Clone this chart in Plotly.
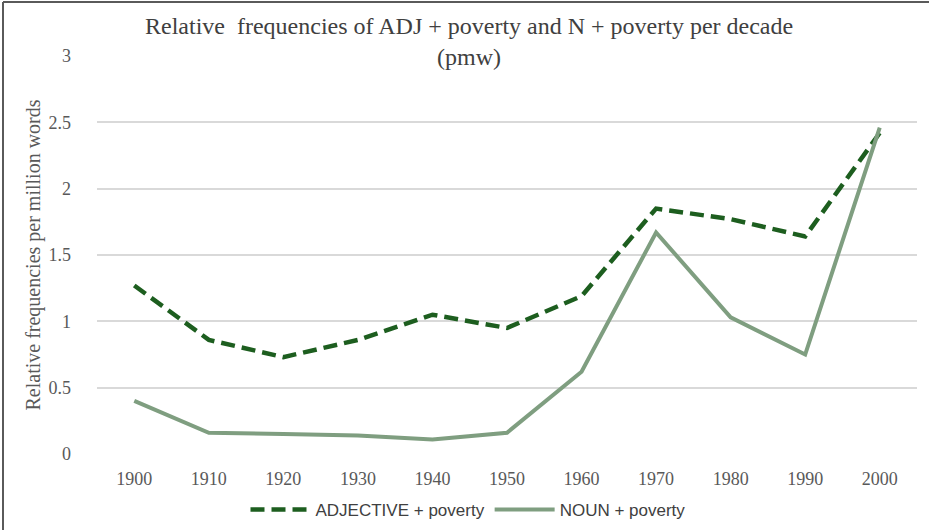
import plotly.graph_objects as go

decades = [1900, 1910, 1920, 1930, 1940, 1950, 1960, 1970, 1980, 1990, 2000]
adj_poverty = [1.27, 0.86, 0.73, 0.86, 1.05, 0.95, 1.19, 1.85, 1.77, 1.64, 2.42]
noun_poverty = [0.40, 0.16, 0.15, 0.14, 0.11, 0.16, 0.62, 1.67, 1.03, 0.75, 2.46]
y_ticks = [0, 0.5, 1, 1.5, 2, 2.5, 3]
y_tick_labels = ["0", "0.5", "1", "1.5", "2", "2.5", "3"]

W, H = 929, 530
ML, MR, MT, MB = 97, 12, 56, 76
PW, PH = W - ML - MR, H - MT - MB

serif = "Liberation Serif, Times New Roman, serif"
sans = "Liberation Sans Narrow, Arial Narrow, Liberation Sans, sans-serif"

fig = go.Figure()
fig.add_trace(go.Scatter(
    x=decades, y=adj_poverty, mode="lines", name="ADJECTIVE + poverty",
    line=dict(color="#1d5e1f", width=4.5, dash="14px,7px"),
))
fig.add_trace(go.Scatter(
    x=decades, y=noun_poverty, mode="lines", name="NOUN + poverty",
    line=dict(color="#7f9e80", width=4),
))

fig.update_layout(
    width=W, height=H,
    margin=dict(l=ML, r=MR, t=MT, b=MB, autoexpand=False),
    paper_bgcolor="white", plot_bgcolor="white",
    showlegend=True,
    legend=dict(
        orientation="h", xref="container", yref="container",
        x=468 / W, xanchor="center",
        y=1 - 510 / H, yanchor="middle",
        font=dict(family=sans, size=17, color="#404040"),
        itemwidth=60, tracegroupgap=0,
    ),
    xaxis=dict(
        range=[1895, 2005], tickmode="array", tickvals=decades,
        ticktext=[str(d) for d in decades], automargin=False,
        showgrid=False, zeroline=False, showline=False, ticks="",
        tickfont=dict(family=serif, size=18, color="#595959"),
        ticklabelstandoff=12,
    ),
    yaxis=dict(
        range=[0, 3], tickmode="array", tickvals=y_ticks, ticktext=y_tick_labels,
        showgrid=True, gridcolor="#d9d9d9", gridwidth=1.5, zeroline=False,
        showline=False, ticks="", automargin=False,
        tickfont=dict(family=serif, size=18, color="#595959"),
        ticklabelstandoff=25,
        title=dict(text="Relative frequencies per million words",
                   font=dict(family=serif, size=20, color="#595959"), standoff=2),
    ),
)

# Chart title, two lines centred over the page
fig.add_annotation(
    text="Relative  frequencies of ADJ + poverty and N + poverty per decade<br>(pmw)",
    xref="paper", yref="paper",
    x=(469 - ML) / PW, y=(PH + MT - 42) / PH,
    xanchor="center", yanchor="middle", showarrow=False,
    font=dict(family=serif, size=24, color="#404040"),
)

# Frame along the left and top edges
fig.add_shape(type="line", xref="paper", yref="paper",
              x0=-(ML - 3) / PW, x1=-(ML - 3) / PW, y0=1 + (MT - 2) / PH, y1=-MB / PH,
              line=dict(color="#5a5a5a", width=2))
fig.add_shape(type="line", xref="paper", yref="paper",
              x0=-(ML - 3) / PW, x1=1 + MR / PW, y0=1 + (MT - 2) / PH, y1=1 + (MT - 2) / PH,
              line=dict(color="#5a5a5a", width=2))

fig.write_html("out.html")
